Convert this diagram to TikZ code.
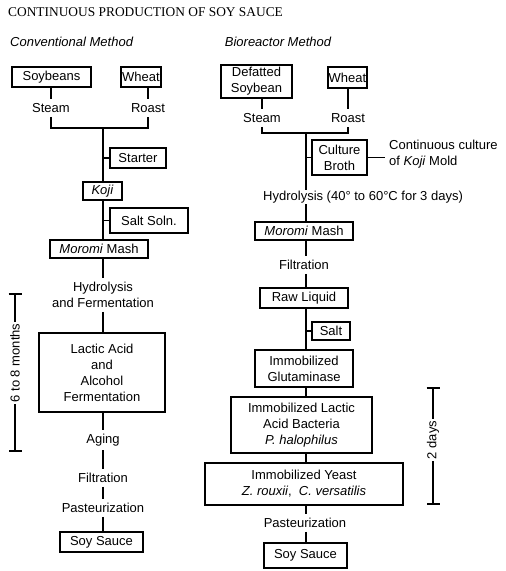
\documentclass[tikz,border=0pt]{standalone}
\usepackage{fontspec}
\setmainfont{Liberation Sans}
\newfontfamily\titlefont{Liberation Serif}
\usetikzlibrary{arrows.meta}
\newcommand{\txt}{\fontsize{13}{16}\selectfont}

\begin{document}
\begin{tikzpicture}[
  x=1pt, y=-1pt,
  box/.style={draw, line width=1.6pt, font=\txt, align=center, inner sep=1pt},
  lbl/.style={font=\txt, align=center, inner sep=4pt},
  con/.style={line width=1.6pt},
  span/.style={line width=1.6pt, {Bar[width=13pt]}-{Bar[width=13pt]}}]
\useasboundingbox (0,0) rectangle (506,571);
% headings
\node[font=\titlefont\fontsize{13.4}{15}\selectfont, anchor=west, inner sep=0] (title) at (8,12) {CONTINUOUS PRODUCTION OF SOY SAUCE};
\node[font=\txt\itshape, anchor=west, inner sep=0] (convT) at (10,42) {Conventional Method};
\node[font=\txt\itshape, inner sep=0] (bioT) at (278,42) {Bioreactor Method};
% conventional method
\node[box, minimum width=79pt, minimum height=20pt] (soyL) at (51.5,77) {Soybeans};
\node[box, minimum width=34pt, minimum height=20pt] (wheatL) at (141,77) {Wheat};
\node[lbl] (steamL) at (51,108) {Steam};
\node[lbl] (roastL) at (148,108) {Roast};
\coordinate (joinL) at (103,128);
\node[box, minimum width=56pt, minimum height=20pt] (starterL) at (138,158) {Starter};
\node[box, minimum width=39pt, minimum height=18pt] (kojiL) at (102.5,191) {\textit{Koji}};
\node[box, minimum width=78pt, minimum height=25pt] (saltL) at (149,220.5) {Salt Soln.};
\node[box, minimum width=98pt, minimum height=18pt] (moromiL) at (99,249) {\textit{Moromi} Mash};
\node[lbl] (hydroL) at (103,295) {Hydrolysis\\and Fermentation};
\node[box, minimum width=126pt, minimum height=79pt] (lacticL) at (102,372.5) {Lactic Acid\\and\\Alcohol\\Fermentation};
\node[lbl] (agingL) at (103,440) {Aging};
\node[lbl] (filtL) at (103,478) {Filtration};
\node[lbl] (pastL) at (103,508) {Pasteurization};
\node[box, minimum width=83pt, minimum height=20pt] (sauceL) at (101.5,542) {Soy Sauce};
% bioreactor method
\node[box, minimum width=71pt, minimum height=33pt] (defatR) at (256.5,81.5) {Defatted\\Soybean};
\node[box, minimum width=39pt, minimum height=21pt] (wheatR) at (347.5,77.5) {Wheat};
\node[lbl] (steamR) at (262,118) {Steam};
\node[lbl] (roastR) at (348,118) {Roast};
\coordinate (joinR) at (306,133);
\node[box, minimum width=55pt, minimum height=35pt] (brothR) at (339.5,157.5) {Culture\\Broth};
\node[lbl, anchor=west, align=left, inner sep=1pt] (contR) at (388,154) {Continuous culture\\of \textit{Koji} Mold};
\node[lbl, anchor=west, inner sep=1pt] (hydroR) at (262,197) {Hydrolysis (40° to 60°C for 3 days)};
\node[box, minimum width=98pt, minimum height=18pt] (moromiR) at (304,231) {\textit{Moromi} Mash};
\node[lbl] (filtR) at (304,265) {Filtration};
\node[box, minimum width=88pt, minimum height=20pt] (rawR) at (304,298) {Raw Liquid};
\node[box, minimum width=38pt, minimum height=18pt] (saltR) at (331,331) {Salt};
\node[box, minimum width=98pt, minimum height=37pt] (glutR) at (304,368.5) {Immobilized\\Glutaminase};
\node[box, minimum width=141pt, minimum height=56pt] (lacR) at (301.5,425) {Immobilized Lactic\\Acid Bacteria\\\textit{P. halophilus}};
\node[box, minimum width=198pt, minimum height=42pt] (yeastR) at (304,484) {Immobilized Yeast\\\textit{Z. rouxii}, \ \textit{C. versatilis}};
\node[lbl] (pastR) at (305,523) {Pasteurization};
\node[box, minimum width=83pt, minimum height=25pt] (sauceR) at (305.5,555.5) {Soy Sauce};
% connectors, conventional
\draw[con] (soyL.south -| steamL) -- (steamL.north);
\draw[con] (wheatL.south -| roastL) -- (roastL.north);
\draw[con] (steamL.south) -- (steamL.south |- joinL) -- (roastL.south |- joinL) -- (roastL.south);
\draw[con] (joinL) -- (joinL |- kojiL.north);
\draw[con] (starterL.west) -- (starterL.west -| joinL);
\draw[con] (joinL |- kojiL.south) -- (joinL |- moromiL.north);
\draw[con] (saltL.west) -- (saltL.west -| joinL);
\foreach \a/\b in {moromiL/hydroL, hydroL/lacticL, lacticL/agingL, agingL/filtL, filtL/pastL, pastL/sauceL}
  \draw[con] (joinL |- \a.south) -- (joinL |- \b.north);
% connectors, bioreactor
\draw[con] (defatR.south -| steamR) -- (steamR.north);
\draw[con] (wheatR.south -| roastR) -- (roastR.north);
\draw[con] (steamR.south) -- (steamR.south |- joinR) -- (roastR.south |- joinR) -- (roastR.south);
\draw[con] (joinR) -- (joinR |- hydroR.north);
\draw[con] (brothR.west) -- (brothR.west -| joinR);
\draw[con] (brothR.east) -- ([xshift=-3pt]brothR.east -| contR.west);
\draw[con] (saltR.west) -- (saltR.west -| joinR);
\foreach \a/\b in {hydroR/moromiR, moromiR/filtR, filtR/rawR, rawR/glutR, glutR/lacR, lacR/yeastR, yeastR/pastR, pastR/sauceR}
  \draw[con] (joinR |- \a.south) -- (joinR |- \b.north);
% time spans
\coordinate (mTop) at (15,293);
\coordinate (mBot) at (15,452);
\draw[span] (mTop) -- (mBot);
\node[lbl, fill=white, rotate=90, inner sep=2pt] (months) at (15,363) {6 to 8 months};
\coordinate (dTop) at (433,387);
\coordinate (dBot) at (433,505);
\draw[span] (dTop) -- (dBot);
\node[lbl, fill=white, rotate=90, inner sep=2pt] (days) at (433,440) {2 days};
\end{tikzpicture}
\end{document}
